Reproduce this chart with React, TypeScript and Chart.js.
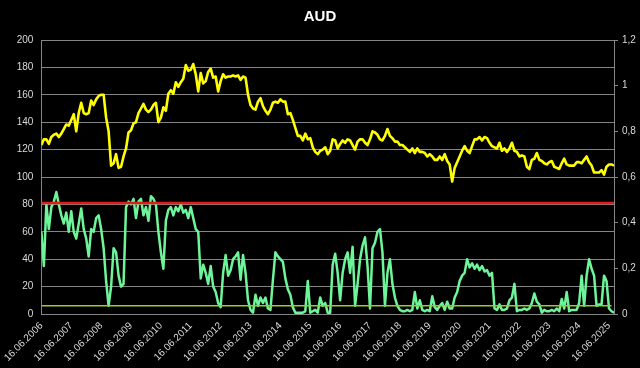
import React, { useEffect, useRef } from 'react';
import { Chart, registerables } from 'chart.js';

Chart.register(...registerables);

// Monthly samples, 16.06.2006 .. 08.2025 (index = months since June 2006)
const xTickLabels = [
  '16.06.2006', '16.06.2007', '16.06.2008', '16.06.2009', '16.06.2010',
  '16.06.2011', '16.06.2012', '16.06.2013', '16.06.2014', '16.06.2015',
  '16.06.2016', '16.06.2017', '16.06.2018', '16.06.2019', '16.06.2020',
  '16.06.2021', '16.06.2022', '16.06.2023', '16.06.2024', '16.06.2025',
];

// AUD price (right axis)
const audPrice = [
  0.74, 0.765, 0.765, 0.745, 0.775, 0.785, 0.79,
  0.775, 0.79, 0.81, 0.83, 0.825, 0.85, 0.875, 0.80, 0.88, 0.925, 0.88, 0.875,
  0.88, 0.935, 0.915, 0.94, 0.955, 0.96, 0.96, 0.86, 0.80, 0.65, 0.66, 0.70,
  0.64, 0.645, 0.69, 0.725, 0.795, 0.805, 0.835, 0.84, 0.88, 0.90, 0.92, 0.895,
  0.885, 0.895, 0.915, 0.925, 0.84, 0.86, 0.905, 0.89, 0.965, 0.98, 0.965, 1.015,
  0.995, 1.015, 1.03, 1.09, 1.065, 1.07, 1.095, 1.05, 0.975, 1.055, 1.01, 1.02,
  1.06, 1.075, 1.035, 1.04, 0.975, 1.02, 1.05, 1.035, 1.04, 1.04, 1.045, 1.04,
  1.045, 1.025, 1.04, 1.035, 0.96, 0.915, 0.90, 0.895, 0.93, 0.945, 0.91, 0.89,
  0.875, 0.895, 0.925, 0.93, 0.925, 0.94, 0.93, 0.93, 0.875, 0.88, 0.85, 0.815,
  0.78, 0.78, 0.76, 0.79, 0.765, 0.77, 0.73, 0.71, 0.70, 0.715, 0.72, 0.73,
  0.70, 0.715, 0.765, 0.76, 0.725, 0.745, 0.76, 0.75, 0.765, 0.76, 0.74, 0.72,
  0.755, 0.765, 0.765, 0.75, 0.74, 0.765, 0.80, 0.795, 0.785, 0.765, 0.76, 0.78,
  0.81, 0.78, 0.77, 0.755, 0.755, 0.74, 0.74, 0.73, 0.72, 0.71, 0.725, 0.705,
  0.725, 0.71, 0.71, 0.705, 0.69, 0.70, 0.69, 0.675, 0.675, 0.69, 0.675, 0.70,
  0.67, 0.655, 0.58, 0.64, 0.665, 0.69, 0.715, 0.735, 0.715, 0.705, 0.735, 0.765,
  0.765, 0.775, 0.76, 0.775, 0.77, 0.75, 0.735, 0.73, 0.725, 0.75, 0.715, 0.725,
  0.71, 0.725, 0.75, 0.715, 0.71, 0.69, 0.695, 0.69, 0.645, 0.635, 0.675, 0.68,
  0.705, 0.675, 0.67, 0.66, 0.655, 0.665, 0.67, 0.645, 0.64, 0.635, 0.66, 0.68,
  0.655, 0.65, 0.65, 0.65, 0.665, 0.665, 0.66, 0.675, 0.69, 0.665, 0.65, 0.62,
  0.62, 0.62, 0.63, 0.61, 0.645, 0.655, 0.655, 0.65,
];

// Indicator (left axis)
const indicator = [
  60, 35, 80, 62, 78, 82, 89, 80, 72, 66, 74, 60, 75,
  60, 55, 66, 77, 62, 55, 42, 62, 60, 70, 72, 62,
  48, 24, 6, 20, 48, 45, 28, 20, 22, 78, 82,
  80, 84, 70, 82, 84, 72, 78, 68, 86, 84, 80, 60, 45, 33,
  68, 76, 78, 72, 78, 75, 80, 74, 76, 70,
  78, 70, 62, 60, 26, 36, 30, 22, 35, 20, 16, 8, 5, 30, 43, 28, 32, 40, 42, 45, 25, 43, 30, 10,
  3, 1, 14, 6, 12, 8, 12, 4, 3, 25, 45, 42, 40, 38, 26, 18, 14, 5, 1, 1, 1, 1, 2, 24, 1, 2, 3, 1, 12, 6, 8, 1, 1, 36, 44,
  30, 10, 30, 40, 45, 30, 49, 6, 22, 40, 50, 56, 35, 4, 48, 52, 60, 62, 45, 6, 30, 40, 22, 12, 6,
  3, 2, 2, 3, 2, 3, 16, 4, 10, 3, 2, 3, 2, 13, 5, 3, 6, 8, 3, 9, 4, 4, 12, 16, 24, 28, 30, 40, 34, 37, 33, 36, 32, 35, 31, 32, 28, 30,
  4, 3, 7, 3, 3, 4, 10, 12, 22, 2, 3, 3, 4, 3, 4, 8, 15, 9, 7, 1, 3, 2, 2, 3, 2, 4, 2, 11, 4, 16, 2, 3, 3, 3, 8, 28, 6, 28, 40, 33, 28, 6, 7, 7, 28, 24, 4, 2, 1,
];

const upperLevel = 81;
const lowerLevel = 6;

const FONT = 'Liberation Sans, Arial, sans-serif';
const GRID = '#858585';
const TEXT = '#d9d9d9';

export default function App() {
  const ref = useRef<HTMLCanvasElement | null>(null);

  useEffect(() => {
    if (!ref.current) return;
    const last = audPrice.length - 1;
    const chart = new Chart(ref.current, {
      type: 'line',
      data: {
        datasets: [
          {
            label: 'upper',
            data: [{ x: 0, y: upperLevel }, { x: last, y: upperLevel }],
            borderColor: '#e01b1b',
            borderWidth: 2.5,
            pointRadius: 0,
            yAxisID: 'y',
          },
          {
            label: 'lower',
            data: [{ x: 0, y: lowerLevel }, { x: last - 1, y: lowerLevel }],
            borderColor: '#9acd32',
            borderWidth: 1.5,
            pointRadius: 0,
            yAxisID: 'y',
          },
          {
            label: 'AUD',
            data: audPrice.map((v, i) => ({ x: i, y: v })),
            borderColor: '#ffff00',
            borderWidth: 2.6,
            borderJoinStyle: 'round',
            pointRadius: 0,
            yAxisID: 'y1',
          },
          {
            label: 'indicator',
            data: indicator.map((v, i) => ({ x: i, y: v })),
            borderColor: '#6ef59a',
            borderWidth: 2.5,
            borderJoinStyle: 'round',
            pointRadius: 0,
            yAxisID: 'y',
          },
        ],
      },
      options: {
        animation: false,
        responsive: true,
        maintainAspectRatio: false,
        layout: { padding: 0 },
        plugins: {
          legend: { display: false },
          tooltip: { enabled: false },
          title: {
            display: true,
            text: 'AUD',
            color: '#ffffff',
            font: { family: FONT, size: 15, weight: 'bold' },
            padding: { top: 8, bottom: 14 },
          },
        },
        scales: {
          x: {
            type: 'linear',
            min: 0,
            max: last,
            grid: { display: false, drawTicks: false },
            border: { display: true, color: GRID },
            ticks: {
              stepSize: 12,
              includeBounds: false,
              autoSkip: false,
              maxRotation: 45,
              minRotation: 45,
              padding: 6,
              color: TEXT,
              font: { family: FONT, size: 10 },
              callback: (v: any) => xTickLabels[Math.round(Number(v) / 12)] ?? '',
            },
            afterFit: (s: any) => { s.height = 54; },
          },
          y: {
            position: 'left',
            min: 0,
            max: 200,
            grid: { color: GRID, drawTicks: false, lineWidth: 1 },
            border: { display: true, color: GRID },
            ticks: {
              stepSize: 20,
              padding: 8,
              color: TEXT,
              font: { family: FONT, size: 10 },
            },
            afterFit: (s: any) => { s.width = 41; },
          },
          y1: {
            position: 'right',
            min: 0,
            max: 1.2,
            grid: { drawOnChartArea: false, drawTicks: true, tickLength: 4, color: GRID },
            border: { display: true, color: GRID },
            ticks: {
              stepSize: 0.2,
              padding: 4,
              color: TEXT,
              font: { family: FONT, size: 10 },
              callback: (v: any) => String(Math.round(Number(v) * 10) / 10).replace('.', ','),
            },
            afterFit: (s: any) => { s.width = 26; },
          },
        },
      },
    });
    return () => chart.destroy();
  }, []);

  return (
    <div style={{ position: 'fixed', left: 0, top: 0, width: 640, height: 368, background: '#000' }}>
      <canvas ref={ref} />
    </div>
  );
}
